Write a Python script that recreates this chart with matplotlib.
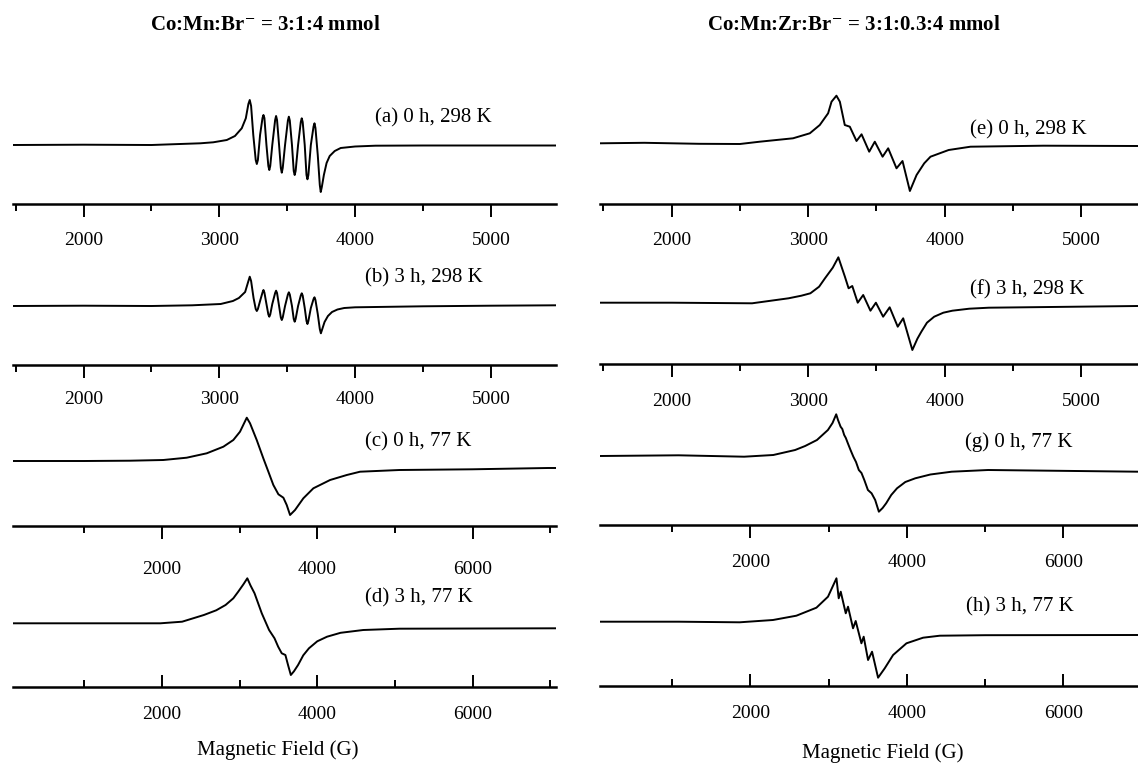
import matplotlib
matplotlib.use("Agg")
import matplotlib.pyplot as plt
from matplotlib.ticker import MultipleLocator

plt.rcParams['font.family'] = ['Liberation Serif', 'DejaVu Serif']
plt.rcParams['mathtext.fontset'] = 'stix'

# EPR traces: field in G, signal in arbitrary units (baseline = 0)
a_field = [1480, 2000, 2500, 2710, 2860, 2955, 3055, 3115, 3165, 3195, 3214, 3224, 3234,
           3250, 3268, 3276, 3284, 3300, 3318, 3325, 3332, 3347, 3361, 3368, 3375,
           3390, 3411, 3418, 3425, 3440, 3453, 3460, 3467, 3484, 3505, 3512, 3519,
           3535, 3548, 3555, 3562, 3580, 3600, 3607, 3614, 3629, 3642, 3649, 3656,
           3674, 3694, 3701, 3708, 3725, 3740, 3747, 3755, 3770, 3790, 3813, 3850,
           3894, 4000, 4150, 4500, 5000, 5480]
a_signal = [0, 0.3, 0, 1, 1.7, 2.7, 5, 9, 16.7, 26.7, 41, 45, 39,
            10, -15, -19, -15, 10, 27, 30, 27, 0, -21, -25, -21,
            0, 25, 29, 25, 0, -23, -27.7, -23, 0, 24.5, 28.3, 24.5,
            0, -26, -30, -26, 0, 23, 26.7, 23, 0, -30, -34.3, -30,
            0, 18.5, 21.7, 17, -10, -40, -47, -42, -30, -18, -11, -6,
            -3, -1.5, -0.7, -0.5, -0.5, -0.5]

b_field = [1480, 2000, 2500, 2800, 3010, 3100, 3144, 3190, 3212, 3224, 3234,
           3252, 3268, 3276, 3284, 3300, 3318, 3325, 3332, 3347, 3361, 3368, 3375,
           3390, 3411, 3418, 3425, 3440, 3453, 3460, 3467, 3484, 3505, 3512, 3519,
           3535, 3548, 3555, 3562, 3580, 3600, 3607, 3614, 3629, 3642, 3649, 3656,
           3674, 3694, 3701, 3708, 3725, 3740, 3748, 3756, 3775, 3800, 3830, 3870,
           3920, 4000, 4500, 5000, 5480]
b_signal = [0, 0.3, 0, 0.7, 2, 5, 8, 14, 24, 29.3, 25,
            8, -3, -5, -3, 5, 13.5, 16, 13.5, 2, -8.5, -10.7, -8.5,
            2, 13, 15.3, 13, 0, -11.5, -14, -11.5, 0, 11.5, 13.7, 11.5,
            0, -13, -15.7, -13, 0, 10.5, 12.7, 10.5, -2, -15, -18, -15,
            -2, 7, 8.7, 6, -8, -23, -27.3, -24, -16, -10, -6, -3.5,
            -2, -1.3, -0.3, 0.3, 0.7]

c_field = [85, 1000, 1591, 2019, 2320, 2578, 2792, 2920, 3006, 3093, 3135, 3221, 3306,
           3371, 3435, 3500, 3564, 3607, 3650, 3714, 3821, 3950, 4165, 4380, 4551,
           5058, 5991, 6970, 7072]
c_signal = [0, 0, 0.3, 1, 3.3, 7.7, 14.3, 21, 29.3, 43.3, 37.7, 21, 2.7,
            -10.7, -24, -33.3, -36.7, -44, -54, -49, -37.3, -27.3, -19, -14, -10.7,
            -9, -8.3, -7, -7]

d_field = [85, 1000, 1981, 2261, 2541, 2700, 2820, 2920, 2983, 3050, 3100, 3140, 3193,
           3286, 3380, 3450, 3497, 3543, 3590, 3625, 3660, 3700, 3753, 3820, 3893,
           4000, 4126, 4300, 4592, 5058, 7072]
d_signal = [0, 0, 0, 1.6, 8.3, 13, 18.3, 25, 31.6, 39, 45, 38, 30,
            10, -6.7, -15, -23.4, -30, -31.7, -42, -51.7, -48, -41.7, -32, -25,
            -18, -13.4, -9.5, -6.7, -5.4, -5]

e_field = [1475, 1800, 2200, 2500, 2645, 2889, 3012, 3085, 3146, 3171, 3207, 3232, 3268,
           3305, 3354, 3391, 3447, 3488, 3545, 3586, 3647, 3691, 3745, 3794, 3850,
           3896, 4029, 4189, 4723, 5416]
e_signal = [0, 0.5, -0.5, -0.7, 1.6, 5, 10, 18.3, 30, 41.6, 47.6, 41.6, 18.3,
            16.6, 2.3, 9, -8.4, 1.6, -13.4, -5, -25, -17.7, -47.7, -31.7, -20,
            -13.4, -6.7, -3.4, -2.4, -2.7]

f_field = [1475, 2000, 2589, 2856, 2950, 3016, 3080, 3123, 3180, 3221, 3269, 3296, 3323,
           3363, 3403, 3456, 3496, 3549, 3597, 3656, 3696, 3763, 3800, 3829, 3870,
           3923, 3990, 4056, 4180, 4323, 5416]
f_signal = [0, 0, -0.6, 4.4, 7, 9.4, 16, 24.4, 35, 45.4, 26, 14.4, 16.7,
            0, 7.7, -8, 0, -14, -4.6, -24, -15.6, -47.3, -36, -29, -20,
            -14, -10, -8, -6, -5, -3.3]

g_field = [79, 1083, 1920, 2293, 2572, 2700, 2851, 2991, 3050, 3097, 3120, 3153, 3175,
           3199, 3220, 3246, 3280, 3316, 3350, 3386, 3420, 3456, 3502, 3549, 3595,
           3642, 3690, 3735, 3800, 3874, 3980, 4107, 4300, 4572, 5037, 6953]
g_signal = [0, 0.7, -0.7, 1, 6, 10, 16, 26, 33, 41.7, 36, 29.3, 27,
            21, 18, 12.7, 6, -0.7, -6, -14, -17, -24, -34, -37.3, -44,
            -55.7, -52, -47.3, -39, -32.3, -26, -22.3, -18.5, -15.7, -14, -15.7]

h_field = [79, 1083, 1863, 2289, 2588, 2844, 2992, 3100, 3129, 3155, 3219, 3248, 3312,
           3346, 3419, 3448, 3504, 3555, 3632, 3717, 3824, 3995, 4207, 4421, 5000, 6953]
h_signal = [0, 0, -0.6, 1.7, 6, 14, 25, 43.4, 23.4, 30, 8.4, 15, -6.6,
            0.7, -21.6, -15, -38.3, -30, -56, -46.6, -33.3, -21.6, -16, -14, -13.5, -13.3]

labels = ["(a) 0 h, 298 K", "(b) 3 h, 298 K", "(c) 0 h, 77 K", "(d) 3 h, 77 K",
          "(e) 0 h, 298 K", "(f) 3 h, 298 K", "(g) 0 h, 77 K", "(h) 3 h, 77 K"]
titles = [r"Co:Mn:Br$^{-}$ = 3:1:4 mmol", r"Co:Mn:Zr:Br$^{-}$ = 3:1:0.3:4 mmol"]
xlabel = "Magnetic Field (G)"

W, H = 1138, 763
fig = plt.figure(figsize=(W / 100, H / 100), dpi=100)

# (field, signal, left px, right px, top px, axis px, baseline px, xlim, wide?, tickdir, pad, label xy)
panels = [
    (a_field, a_signal, 13, 556, 60, 204, 145, (1480, 5480), False, 'out', 11, (375, 118)),
    (b_field, b_signal, 13, 556, 250, 365, 306, (1480, 5480), False, 'out', 10, (365, 278)),
    (c_field, c_signal, 13, 556, 410, 526, 461, (85, 7072), True, 'out', 16, (365, 442)),
    (d_field, d_signal, 13, 556, 570, 687, 623.3, (85, 7072), True, 'in', 14, (365, 598)),
    (e_field, e_signal, 600, 1138, 60, 204, 143.3, (1475, 5416), False, 'out', 11, (970, 130)),
    (f_field, f_signal, 600, 1138, 230, 364, 302.7, (1475, 5416), False, 'out', 12, (970, 290)),
    (g_field, g_signal, 600, 1138, 400, 525, 456, (79, 6953), True, 'out', 12, (965, 442)),
    (h_field, h_signal, 600, 1138, 560, 686, 621.7, (79, 6953), True, 'in', 14, (966, 607)),
]

for (fx, fy, l, r, t, axp, base, xl, wide, tdir, pad, lab), label in zip(panels, labels):
    ax = fig.add_axes([l / W, 1 - axp / H, (r - l) / W, (axp - t) / H])
    ax.plot(fx, fy, color='black', lw=1.4, solid_joinstyle='round')
    ax.set_xlim(*xl)
    ax.set_ylim(base - axp, base - t)
    for s in ['top', 'left', 'right']:
        ax.spines[s].set_visible(False)
    ax.spines['bottom'].set_linewidth(1.8)
    ax.set_yticks([])
    if wide:
        ax.xaxis.set_major_locator(MultipleLocator(2000))
        ax.xaxis.set_minor_locator(MultipleLocator(1000))
    else:
        ax.xaxis.set_major_locator(MultipleLocator(1000))
        ax.xaxis.set_minor_locator(MultipleLocator(500))
    ax.tick_params(axis='x', which='major', direction=tdir, length=9, width=1.4,
                   pad=pad, labelsize=14)
    ax.tick_params(axis='x', which='minor', direction=tdir, length=5, width=1.4)
    ax.patch.set_visible(False)
    fig.text(lab[0] / W, 1 - lab[1] / H, label, fontsize=15, ha='left', va='center')

fig.text(265 / W, 1 - 25 / H, titles[0], fontsize=15, fontweight='bold', ha='center', va='center')
fig.text(854 / W, 1 - 25 / H, titles[1], fontsize=15, fontweight='bold', ha='center', va='center')
fig.text(278 / W, 1 - 750 / H, xlabel, fontsize=15, ha='center', va='center')
fig.text(883 / W, 1 - 753 / H, xlabel, fontsize=15, ha='center', va='center')

fig.savefig("out.png", dpi=100)
